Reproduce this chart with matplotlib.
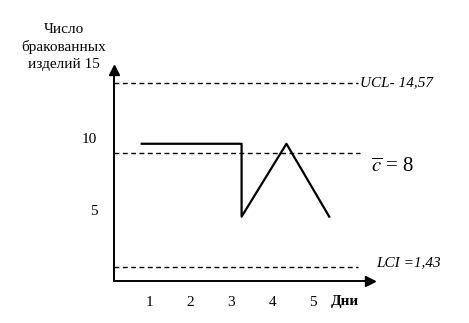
import matplotlib.pyplot as plt

# data (days on x, number of defective items on y)
day_pos = [0.8, 3.25, 3.25, 4.35, 5.4]
defects = [9.6, 9.6, 4.5, 9.6, 4.5]

ucl = 13.85
c_bar = 8.95
lcl = 1.0

x_ticks = [1, 2, 3, 4, 5]
y_ticks = [5, 10]

plt.rcParams['font.family'] = ['Liberation Serif', 'DejaVu Serif']
plt.rcParams['mathtext.fontset'] = 'stix'

W, H = 469, 323
fig = plt.figure(figsize=(W / 100, H / 100), dpi=100)
ax = fig.add_axes([114 / W, 42 / H, (370 - 114) / W, (281 - 70) / H])
ax.set_xlim(0.12, 6.4)
ax.set_ylim(0, 14.76)

for s in ['top', 'right']:
    ax.spines[s].set_visible(False)
for s in ['left', 'bottom']:
    ax.spines[s].set_linewidth(1.4)

# arrow heads
ax.plot(1, 0, '>k', ms=7, transform=ax.transAxes, clip_on=False)
ax.plot(0, 1, '^k', ms=7, transform=ax.transAxes, clip_on=False)

# control limits
ax.plot([0.12, 6.1], [ucl, ucl], color='black', lw=1, ls=(0, (3.5, 2.5)), clip_on=False)
ax.plot([0.12, 6.15], [c_bar, c_bar], color='black', lw=1, ls=(0, (3.5, 2.5)), clip_on=False)
ax.plot([0.12, 6.1], [lcl, lcl], color='black', lw=1, ls=(0, (3.5, 2.5)), clip_on=False)

ax.plot(day_pos, defects, color='black', lw=1.6)

ax.set_xticks(x_ticks)
ax.set_yticks(y_ticks)
ax.tick_params(axis='x', length=0, pad=11, labelsize=11)
ax.tick_params(axis='y', length=0, pad=12, labelsize=11)

ax.text(5.79, -1.45, 'Дни', fontsize=11, fontweight='bold', ha='center', va='center', clip_on=False)

fig.text(64 / W, 1 - 47 / H, 'Число\nбракованных\nизделий 15', fontsize=11,
         ha='center', va='center', linespacing=1.35)

ax.text(6.15, ucl, 'UCL- 14,57', fontsize=11, style='italic', ha='left', va='center', clip_on=False)
ax.text(6.42, c_bar - 1.0, r'$\overline{c}$ = 8', fontsize=15, ha='left', va='center', clip_on=False)
ax.text(6.55, lcl + 0.3, 'LCI =1,43', fontsize=11, style='italic', ha='left', va='center', clip_on=False)

fig.savefig('out.png', dpi=100)
